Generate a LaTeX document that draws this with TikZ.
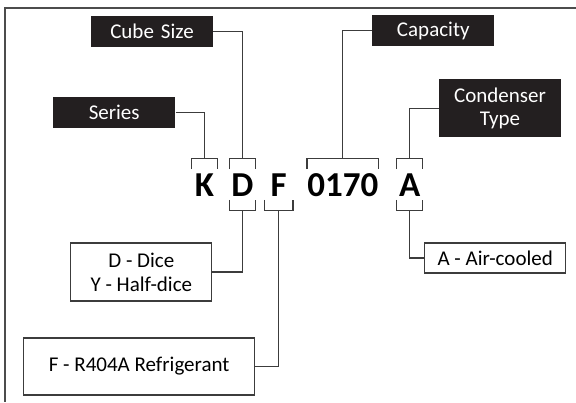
\documentclass[tikz,border=0pt]{standalone}
\usepackage{fontspec}
\setmainfont{Carlito}
\usetikzlibrary{positioning}
\definecolor{lblfill}{HTML}{231F20}
\definecolor{linegray}{HTML}{3C3C3C}
\tikzstyle{lbox}=[rectangle, fill=lblfill, text=white, minimum width=61pt,
                  minimum height=15.5pt, inner sep=1pt, text centered, text width=59pt,
                  font=\fontsize{10.5}{11.5}\selectfont]
\tikzstyle{wbox}=[rectangle, draw=linegray, line width=0.55pt, minimum height=15pt,
                  inner sep=1pt, align=center, font=\fontsize{10.5}{12}\selectfont]
\tikzstyle{cbox}=[rectangle, inner xsep=0pt, inner ysep=1.75pt, text height=11.5pt,
                  text depth=0pt, minimum width=12.5pt,
                  font=\fontsize{17.5}{20}\selectfont\bfseries]
\tikzstyle{pline}=[-, line width=0.55pt, draw=linegray]

\begin{document}
\begin{tikzpicture}[node distance=0mm]
\useasboundingbox (0,0) rectangle (288pt,-201pt);
\draw[line width=0.7pt, draw=gray!60!black] (288pt,-4pt) -- (2.5pt,-4pt) -- (2.5pt,-201pt);

% model code
\node (K) [cbox] at (102.25pt,-92.25pt) {K};
\node (D) [cbox, right=6pt of K] {D};
\node (F) [cbox, right=4.5pt of D, minimum width=14pt] {F};
\node (CAP) [cbox, right=7pt of F] {0170};
\node (A) [cbox, right=9pt of CAP] {A};

% brackets
\draw[pline] (K.north west) -- ++(0,5.5pt) -| (K.north east);
\draw[pline] (D.north west) -- ++(0,5.5pt) -| (D.north east);
\draw[pline] (CAP.north west) -- ++(0,5.5pt) -| (CAP.north east);
\draw[pline] (A.north west) -- ++(0,5.5pt) -| (A.north east);
\draw[pline] (D.south west) -- ++(0,-5.5pt) -| (D.south east);
\draw[pline] (F.south west) -- ++(0,-5.5pt) -| (F.south east);
\draw[pline] (A.south west) -- ++(0,-5.5pt) -| (A.south east);

% labels
\node (SERIES) [lbox, above left=20.25pt and 8pt of K.north west] {Series};
\node (CUBE) [lbox, above left=60.75pt and 8pt of D.north west] {Cube Size};
\node (CAPLBL) [lbox, above right=61.25pt and 14.5pt of CAP.north] {Capacity};
\node (COND) [lbox, minimum height=29pt, above right=15.75pt and 8pt of A.north east] {Condenser\\Type};

\draw[pline] (SERIES.east) -| ([yshift=5.5pt]K.north);
\draw[pline] (CUBE.east) -| ([yshift=5.5pt]D.north);
\draw[pline] (CAPLBL.west) -| ([yshift=5.5pt]CAP.north);
\draw[pline] (COND.west) -| ([yshift=5.5pt]A.north);

% options
\node (DICE) [wbox, minimum width=70.5pt, minimum height=29pt,
  below left=21.25pt and 8.5pt of D.south west] {D - Dice\\Y - Half-dice};
\node (REFR) [wbox, minimum width=115.5pt, minimum height=28.5pt,
  below left=68.75pt and 4.5pt of F.south west] {F - R404A Refrigerant};
\node (AIR) [wbox, minimum width=70.5pt,
  below right=21.25pt and 7.25pt of A.south] {A - Air-cooled};

\draw[pline] ([yshift=-5.5pt]D.south) |- (DICE.east);
\draw[pline] ([yshift=-5.5pt]F.south) |- (REFR.east);
\draw[pline] ([yshift=-5.5pt]A.south) |- (AIR.west);

\end{tikzpicture}
\end{document}
